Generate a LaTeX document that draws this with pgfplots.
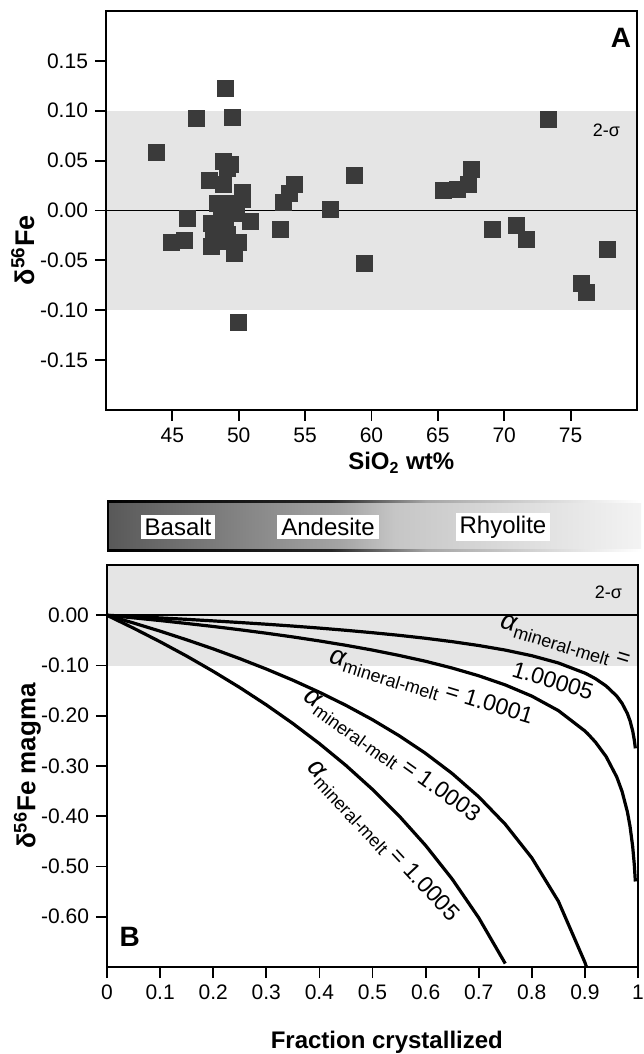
\documentclass[border=0pt]{standalone}
\usepackage{fontspec}
\setmainfont{Liberation Sans}
\usepackage{pgfplots}
\pgfplotsset{compat=1.18}
\usepackage{pgfplotstable}

\definecolor{band}{RGB}{229,229,229}
\definecolor{sq}{RGB}{58,58,58}
\definecolor{g0}{RGB}{88,88,88}
\definecolor{g1}{RGB}{165,165,165}
\definecolor{g2}{RGB}{198,198,198}
\definecolor{g3}{RGB}{243,243,243}
\pgfdeclarehorizontalshading{barshade}{100bp}{color(0bp)=(g0); color(25bp)=(g0); color(47bp)=(g1); color(52bp)=(g2); color(75bp)=(g3); color(100bp)=(g3)}
\pgfdeclarehorizontalshading{edgeshade}{100bp}{color(0bp)=(black); color(25bp)=(black); color(46bp)=(black!85); color(55bp)=(black!35); color(75bp)=(white); color(100bp)=(white)}

\pgfplotstableread{
x y
43.8 0.058
46.8 0.092
49.0 0.122
49.55 0.093
48.87 0.049
49.39 0.046
49.18 0.042
47.78 0.030
48.87 0.026
50.26 0.018
50.26 0.011
48.4 0.007
49.5 0.007
48.87 0.007
53.35 0.008
53.82 0.017
54.16 0.026
56.9 0.001
58.68 0.035
59.48 -0.053
53.14 -0.019
46.14 -0.008
44.94 -0.032
45.93 -0.030
47.94 -0.013
47.94 -0.036
49.0 -0.019
49.95 -0.032
49.64 -0.043
50.88 -0.011
49.8 -0.003
48.1 -0.024
48.87 -0.031
49.18 -0.024
48.7 -0.009
49.95 -0.112
65.42 0.020
66.5 0.021
67.28 0.026
67.52 0.041
69.07 -0.019
70.9 -0.015
71.67 -0.029
73.34 0.091
75.8 -0.073
76.16 -0.082
77.74 -0.039
}\ptsA

\pgfplotstableread{
F a5 a3 a1 a05
0 0 0 0 0
0.05 -0.0257 -0.0154 -0.0051 -0.0026
0.10 -0.0527 -0.0316 -0.0105 -0.0053
0.15 -0.0812 -0.0488 -0.0163 -0.0081
0.20 -0.1116 -0.0669 -0.0223 -0.0112
0.25 -0.1438 -0.0863 -0.0288 -0.0144
0.30 -0.1783 -0.1070 -0.0357 -0.0178
0.35 -0.2154 -0.1292 -0.0431 -0.0215
0.40 -0.2554 -0.1532 -0.0511 -0.0255
0.45 -0.2989 -0.1793 -0.0598 -0.0299
0.50 -0.3466 -0.2079 -0.0693 -0.0347
0.55 -0.3992 -0.2396 -0.0799 -0.0399
0.60 -0.4581 -0.2749 -0.0916 -0.0458
0.65 -0.5249 -0.3149 -0.1050 -0.0525
0.70 -0.6020 -0.3612 -0.1204 -0.0602
0.75 -0.6931 -0.4159 -0.1386 -0.0693
0.80 nan -0.4828 -0.1609 -0.0805
0.85 nan -0.5691 -0.1897 -0.0949
0.90 nan -0.6908 -0.2303 -0.1151
0.905 nan -0.7062 -0.2354 -0.1177
0.92 nan nan -0.2526 -0.1263
0.94 nan nan -0.2813 -0.1407
0.96 nan nan -0.3219 -0.1609
0.97 nan nan -0.3507 -0.1753
0.98 nan nan -0.3912 -0.1956
0.985 nan nan -0.4200 -0.2100
0.99 nan nan -0.4605 -0.2303
0.993 nan nan -0.4962 -0.2481
0.995 nan nan -0.5298 -0.2649
}\curves

\pgfplotsset{
  base/.style={
    scale only axis, width=265.5pt,
    axis on top,
    axis line style={line width=1pt},
    tick align=outside, major tick length=5.5pt,
    tick style={line width=0.9pt, black},
    tick pos=left,
    ticklabel style={font=\fontsize{10.5}{11}\selectfont},
    /pgf/number format/assume math mode=true,
    xlabel style={font=\bfseries\fontsize{12}{13}\selectfont},
  },
}

\newcommand{\amm}[1]{{\fontsize{11.5}{13}\selectfont{\fontsize{13.5}{14}\selectfont\itshape α}\raisebox{-0.45ex}{\fontsize{9}{10}\selectfont mineral-melt} #1}}

\begin{document}
\begin{tikzpicture}
\path[use as bounding box] (0,0) rectangle (321.5pt,527pt);

% Panel A
\begin{axis}[base, at={(53pt,322pt)}, anchor=south west, height=199.5pt,
  xmin=40, xmax=80, ymin=-0.2, ymax=0.2,
  xtick={45,50,55,60,65,70,75},
  ytick={-0.15,-0.1,-0.05,0,0.05,0.1,0.15},
  yticklabel style={/pgf/number format/.cd, fixed, fixed zerofill, precision=2},
  xlabel={SiO\textsubscript{2} wt\%},
  ylabel={δ\textsuperscript{56}Fe},
  xlabel style={at={(axis description cs:0.556,-0.133)}, anchor=center},
  ylabel style={at={(axis description cs:-0.156,0.40)}, anchor=center, font=\bfseries\fontsize{13.5}{14}\selectfont},
]
\fill[band] (axis cs:40,-0.1) rectangle (axis cs:80,0.1);
\draw[line width=0.8pt] (axis cs:40,0) -- (axis cs:80,0);
\addplot[only marks, mark=square*, mark size=4pt,
  mark options={fill=sq, draw=sq, rounded corners=1pt}] table[x=x, y=y] {\ptsA};
\node[anchor=east, font=\fontsize{9}{10}\selectfont] at (axis cs:79.25,0.08) {2-σ};
\node[font=\bfseries\fontsize{14}{15}\selectfont] at (axis cs:78.8,0.173) {A};
\end{axis}

% Gradient bar
\shade[shading=barshade] (53.5pt,251pt) rectangle (320.5pt,276.5pt);
\shade[shading=edgeshade] (53.5pt,275.5pt) rectangle (320.5pt,276.5pt);
\shade[shading=edgeshade] (53.5pt,251pt) rectangle (320.5pt,252pt);
\fill[black] (53.5pt,251pt) rectangle (54.5pt,276.5pt);
\node[fill=white, inner xsep=2pt, inner ysep=1.5pt, font=\fontsize{12}{13}\selectfont] at (89pt,263.5pt) {Basalt};
\node[fill=white, inner xsep=2pt, inner ysep=1.5pt, font=\fontsize{12}{13}\selectfont] at (164pt,263.5pt) {Andesite};
\node[fill=white, inner xsep=2pt, inner ysep=1.5pt, font=\fontsize{12}{13}\selectfont] at (251.5pt,263.5pt) {Rhyolite};

% Panel B
\begin{axis}[base, at={(53.5pt,43.5pt)}, anchor=south west, height=201pt,
  xmin=0, xmax=1, ymin=-0.7, ymax=0.1,
  xtick={0,0.1,0.2,0.3,0.4,0.5,0.6,0.7,0.8,0.9,1},
  ytick={-0.6,-0.5,-0.4,-0.3,-0.2,-0.1,0},
  yticklabel style={/pgf/number format/.cd, fixed, fixed zerofill, precision=2},
  xlabel={Fraction crystallized},
  ylabel={δ\textsuperscript{56}Fe magma},
  xlabel style={at={(axis description cs:0.527,-0.187)}, anchor=center},
  ylabel style={at={(axis description cs:-0.150,0.5)}, anchor=center, font=\bfseries\fontsize{13}{14}\selectfont},
  unbounded coords=jump,
]
\fill[band] (axis cs:0,-0.1) rectangle (axis cs:1,0.1);
\draw[line width=0.8pt] (axis cs:0,0) -- (axis cs:1,0);
\addplot[line width=1.6pt, black] table[x=F, y=a5] {\curves};
\addplot[line width=1.6pt, black] table[x=F, y=a3] {\curves};
\addplot[line width=1.6pt, black] table[x=F, y=a1] {\curves};
\addplot[line width=1.6pt, black] table[x=F, y=a05] {\curves};
\node[anchor=east, font=\fontsize{9}{10}\selectfont] at (axis cs:0.983,0.046) {2-σ};
\node[font=\bfseries\fontsize{14}{15}\selectfont] at (axis cs:0.043,-0.64) {B};
\node[rotate=-17, inner sep=0pt] at (axis cs:0.862,-0.055) {\amm{=}};
\node[rotate=-17, inner sep=0pt, font=\fontsize{11.5}{13}\selectfont] at (axis cs:0.840,-0.130) {1.00005};
\node[rotate=-17, inner sep=0pt] at (axis cs:0.61,-0.145) {\amm{= 1.0001}};
\node[rotate=-35.5, inner sep=0pt] at (axis cs:0.535,-0.282) {\amm{= 1.0003}};
\node[rotate=-47, inner sep=0pt] at (axis cs:0.518,-0.451) {\amm{= 1.0005}};
\end{axis}
\end{tikzpicture}
\end{document}
